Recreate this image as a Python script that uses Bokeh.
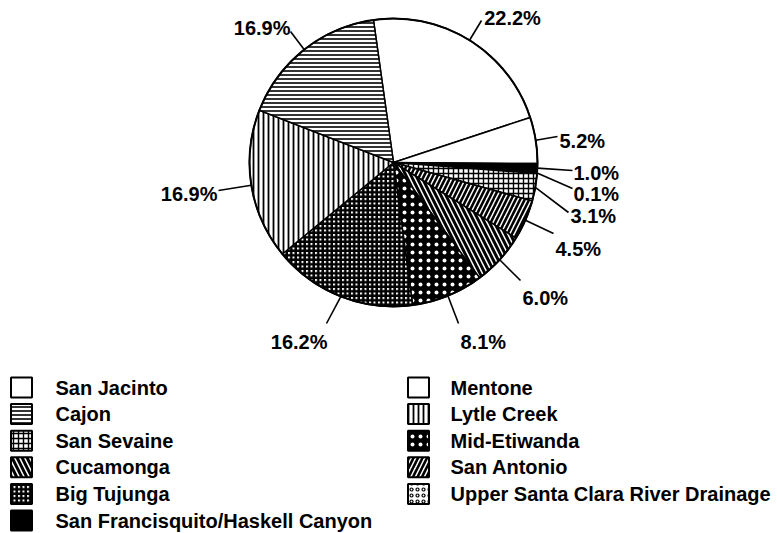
import math
from bokeh.plotting import figure
from bokeh.models import Range1d, ColumnDataSource
from bokeh.core.properties import value
from bokeh.embed import file_html
from bokeh.resources import INLINE

# ---------------- data ----------------
names = ["San Jacinto", "Mentone", "San Francisquito/Haskell Canyon",
         "Upper Santa Clara River Drainage", "San Sevaine", "San Antonio",
         "Cucamonga", "Mid-Etiwanda", "Big Tujunga", "Lytle Creek", "Cajon"]
shares = [22.2, 5.2, 1.0, 0.1, 3.1, 4.5, 6.0, 8.1, 16.2, 16.9, 16.9]
labels = ["22.2%", "5.2%", "1.0%", "0.1%", "3.1%", "4.5%", "6.0%", "8.1%",
          "16.2%", "16.9%", "16.9%"]
legend_left = ["San Jacinto", "Cajon", "San Sevaine", "Cucamonga", "Big Tujunga",
               "San Francisquito/Haskell Canyon"]
legend_right = ["Mentone", "Lytle Creek", "Mid-Etiwanda", "San Antonio",
                "Upper Santa Clara River Drainage"]

# ---------------- styles ----------------
# name: (fill, hatch pattern, hatch color, hatch scale, hatch weight)
STYLE = {
    "San Jacinto": ("white", " ", "black", 4, 1),
    "Mentone": ("white", " ", "black", 4, 1),
    "San Francisquito/Haskell Canyon": ("black", " ", "black", 4, 1),
    "Upper Santa Clara River Drainage": ("white", "ring", "black", 6, 1.2),
    "San Sevaine": ("white", "cross", "black", 5, 1.4),
    "San Antonio": ("white", "right_diagonal_line", "black", 9, 2.6),
    "Cucamonga": ("white", "left_diagonal_line", "black", 10, 3.0),
    "Mid-Etiwanda": ("black", "dot", "white", 8, 1),
    "Big Tujunga": ("white", "cross", "black", 4.5, 2.5),
    "Lytle Creek": ("white", "vertical_line", "black", 5, 1.8),
    "Cajon": ("white", "horizontal_line", "black", 4, 1.6),
}

# layout (image pixel coordinates)
W, H = 777, 533
def X(px):
    return px
def Y(py):
    return H - py

CX, CY, R = 393, 162, 144
START_DEG = 98.0
# leader end point, text anchor point, text alignment
LABEL_LAYOUT = [
    ((481, 20), (512, 17), "center"),
    ((557, 136), (559, 140), "left"),
    ((572, 170), (573, 172), "left"),
    ((572, 188), (573, 193), "left"),
    ((568, 212), (570, 215), "left"),
    ((553, 233), (555, 248), "left"),
    ((520, 280), (522, 297), "left"),
    ((458, 323), (460, 341), "left"),
    ((326, 323), (327, 341), "right"),
    ((218, 190), (217, 193), "right"),
    ((290, 31), (290, 27), "right"),
]

p = figure(width=W, height=H, output_backend="svg", toolbar_location=None,
           x_range=Range1d(0, W), y_range=Range1d(0, H), min_border=0,
           outline_line_color=None, background_fill_color="white",
           border_fill_color="white")
p.axis.visible = False
p.grid.visible = False

total = sum(shares)
starts, ends, mids = [], [], []
a = math.radians(START_DEG)
for s in shares:
    b = a - s / total * 2 * math.pi
    starts.append(b)
    ends.append(a)
    mids.append((a + b) / 2)
    a = b

src = ColumnDataSource(dict(
    x=[X(CX)] * len(names), y=[Y(CY)] * len(names),
    start=starts, end=ends,
    fill=[STYLE[n][0] for n in names],
    hp=[STYLE[n][1] for n in names],
    hc=[STYLE[n][2] for n in names],
    hs=[STYLE[n][3] for n in names],
    hw=[STYLE[n][4] for n in names],
))
p.wedge(x="x", y="y", radius=R, start_angle="start", end_angle="end",
        direction="anticlock", source=src, fill_color="fill",
        hatch_pattern="hp", hatch_color="hc", hatch_scale="hs", hatch_weight="hw",
        line_color="black", line_width=1.5)
# outer outline
p.circle(x=[X(CX)], y=[Y(CY)], radius=R, fill_color=None, line_color="black",
         line_width=2)

# leader lines + labels
for i, lab in enumerate(labels):
    m = mids[i]
    sx = X(CX) + R * math.cos(m)
    sy = Y(CY) + R * math.sin(m)
    (ex, ey), (tx, ty), al = LABEL_LAYOUT[i]
    p.line([sx, X(ex)], [sy, Y(ey)], line_color="black", line_width=1.6)
    p.text(x=[X(tx)], y=[Y(ty)], text=[lab], text_align=al,
           text_baseline="middle", text_font=value("Liberation Sans"),
           text_font_style="bold", text_font_size="20px", text_color="black")

# legend
ROW0, DROW = 387, 26.6
def legend_col(items, box_x, text_x):
    ys = [Y(ROW0 + DROW * k) for k in range(len(items))]
    lsrc = ColumnDataSource(dict(
        x=[X(box_x)] * len(items), y=ys, t=items,
        fill=[STYLE[n][0] for n in items],
        hp=[STYLE[n][1] for n in items],
        hc=[STYLE[n][2] for n in items],
        hs=[STYLE[n][3] for n in items],
        hw=[STYLE[n][4] for n in items],
        tx=[X(text_x)] * len(items),
    ))
    p.rect(x="x", y="y", width=21, height=20, source=lsrc, fill_color="fill",
           hatch_pattern="hp", hatch_color="hc", hatch_scale="hs",
           hatch_weight="hw", line_color="black", line_width=2)
    p.text(x="tx", y="y", text="t", source=lsrc, text_align="left",
           text_baseline="middle", text_font=value("Liberation Sans"),
           text_font_style="bold", text_font_size="20px", text_color="black")

legend_col(legend_left, 21, 55)
legend_col(legend_right, 418, 450)

open("out.html", "w").write(file_html(p, INLINE))
